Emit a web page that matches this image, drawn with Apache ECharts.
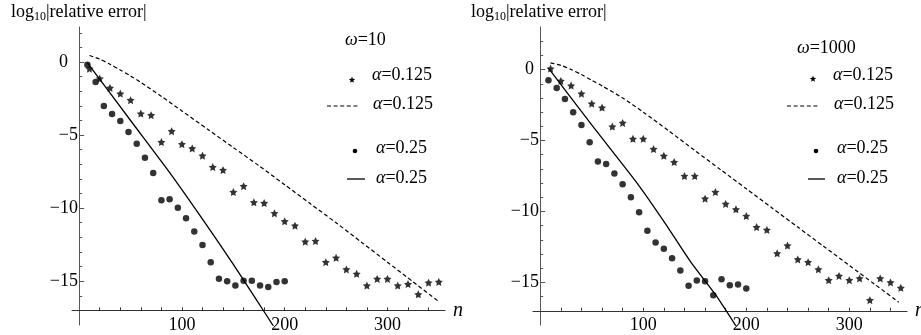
<!DOCTYPE html>
<html>
<head>
<meta charset="utf-8">
<script src="https://cdn.jsdelivr.net/npm/echarts@6/dist/echarts.min.js"></script>
<style>
html,body{margin:0;padding:0;background:#fff;}
#chart{width:921px;height:335px;}
</style>
</head>
<body>
<div id="chart"></div>
<script>
// ---------- data ----------
const starN = [10,20,30,40,50,60,70,80,90,100,110,120,130,140,150,160,170,180,190,200,210,220,230,240,250,260,270,280,290,300,310,320,330,340,350];
const dotN  = [8,16,24,32,40,48,56,64,72,80,88,96,104,112,120,128,136,144,152,160,168,176,184,192,200];

// omega = 10
const w10StarV = [-0.45,-1.13,-1.77,-2.16,-2.61,-3.53,-3.64,-5.48,-4.73,-5.62,-5.91,-6.41,-7.19,-7.39,-8.9,-8.5,-9.6,-9.65,-10.35,-10.9,-11.2,-12.3,-12.25,-13.7,-13.4,-14.2,-14.5,-15.3,-14.85,-14.85,-15.3,-15.2,-15.9,-15.1,-15.05];
const w10DotV  = [-0.18,-1.36,-3.0,-3.55,-4.03,-4.78,-5.6,-6.55,-7.6,-9.46,-9.4,-9.97,-10.7,-11.6,-12.53,-13.7,-14.83,-15.0,-15.3,-14.97,-14.97,-15.3,-15.4,-15.06,-15.0];
const w10DashN = [10,20,30,40,50,60,80,100,125,150,175,200,225,250,275,300,325,350];
const w10DashV = [0.45,0.2,-0.15,-0.55,-0.95,-1.4,-2.35,-3.35,-4.6,-5.85,-7.1,-8.4,-9.7,-11.0,-12.35,-13.7,-15.05,-16.4];
const w10SolidN = [8,50,90,120,150,170,192];
const w10SolidV = [-0.05,-4.0,-7.75,-10.75,-13.85,-16.0,-18.4];

// omega = 1000
const w1000StarV = [0.07,-0.8,-1.13,-1.7,-2.4,-2.68,-4.02,-3.76,-4.88,-4.88,-5.6,-6.08,-6.52,-7.5,-7.5,-9.1,-8.63,-9.47,-9.85,-10.32,-11.1,-11.3,-12.95,-12.4,-13.38,-13.57,-14.08,-14.84,-14.54,-14.84,-14.72,-16.25,-14.72,-15.0,-15.38];
const w1000DotV  = [-0.75,-1.3,-2.07,-3.0,-3.9,-5.13,-6.47,-6.66,-7.33,-8.08,-9.0,-10.06,-11.36,-12.18,-12.63,-13.3,-14.16,-15.24,-14.86,-14.91,-15.9,-14.78,-15.2,-15.14,-15.43];
const w1000DashN = [10,20,30,40,50,60,80,100,125,150,175,200,225,250,275,300,325,348];
const w1000DashV = [0.47,0.3,0.0,-0.35,-0.75,-1.15,-2.0,-3.0,-4.33,-5.7,-7.05,-8.4,-9.75,-11.1,-12.45,-13.8,-15.15,-16.4];
const w1000SolidN = [8,50,94,120,146,170,192];
const w1000SolidV = [0.1,-3.9,-8.0,-10.7,-13.55,-15.85,-18.3];

const xTickLabels = [100,200,300];
const xMinorTicks = [20,40,60,80,100,120,140,160,180,200,220,240,260,280,300,320,340];
const yTickLabels = [-15,-10,-5,0];
const yMinorTicks = [-16,-15,-14,-13,-12,-11,-10,-9,-8,-7,-6,-5,-4,-3,-2,-1,0,1,2];

const panels = [
  {omega:'10', starV:w10StarV, dotV:w10DotV, dashN:w10DashN, dashV:w10DashV, solidN:w10SolidN, solidV:w10SolidV, ymax:2.4},
  {omega:'1000', starV:w1000StarV, dotV:w1000DotV, dashN:w1000DashN, dashV:w1000DashV, solidN:w1000SolidN, solidV:w1000SolidV, ymax:3.0}
];
const alphaA = '0.125', alphaB = '0.25';

// ---------- layout ----------
const FONT = 'Liberation Serif';
const gridsPos = [{left:72, top:27, width:373, height:298}, {left:533, top:27, width:374, height:298}];
const zeroPad = [10, 5];
const legendPos = [
  {wx:345, wy:40, sx:352, sy:80, tx1:372, ty1:75, dx1:327, dx2:360, dy:106, tx2:373, ty2:104, cx:355, cy:151, tx3:376, ty3:148, lx1:347, lx2:365, ly:179, tx4:376, ty4:178},
  {wx:797, wy:48, sx:813, sy:79, tx1:833, ty1:75, dx1:787, dx2:820, dy:106, tx2:834, ty2:104, cx:816, cy:151, tx3:837, ty3:148, lx1:808, lx2:825, ly:179, tx4:837, ty4:178}
];
const titlePos = [{x:11, y:14}, {x:471, y:14}];

const STAR = 'path://M0,-10 L2.94,-4.05 9.51,-3.09 4.76,1.55 5.88,8.09 0,5 -5.88,8.09 -4.76,1.55 -9.51,-3.09 -2.94,-4.05 Z';
const zip = (a,b) => a.map((v,i)=>[v,b[i]]);

const grid = [], xAxis = [], yAxis = [], series = [], graphic = [];
const AX = '#555';

function starPoints(cx, cy, R){
  const pts=[];
  for(let k=0;k<10;k++){
    const r = k%2===0 ? R : R*0.42;
    const a = -Math.PI/2 + k*Math.PI/5;
    pts.push([cx + r*Math.cos(a), cy + r*Math.sin(a)]);
  }
  return pts;
}

panels.forEach((p, i) => {
  const g = gridsPos[i];
  grid.push({left:g.left, top:g.top, width:g.width, height:g.height, outerBoundsMode:'none', containLabel:false});
  const yMain = 3*i, yAux = 3*i+1;
  xAxis.push({
    type:'value', gridIndex:i, min:-7, max:356,
    axisLine:{show:true, onZero:true, onZeroAxisIndex:yAux, lineStyle:{color:'#333', width:1}},
    axisTick:{show:true, inside:true, length:3, customValues:xMinorTicks, lineStyle:{color:'#333'}},
    axisLabel:{show:true, customValues:xTickLabels, fontFamily:FONT, fontSize:18, color:'#000', margin:-9},
    splitLine:{show:false},
    name:'n', nameLocation:'end', nameGap:8,
    nameTextStyle:{fontFamily:FONT, fontSize:20, fontStyle:'italic', color:'#000', verticalAlign:'middle'}
  });
  yAxis.push({
    type:'value', gridIndex:i, position:'left', min:-18, max:p.ymax,
    axisLine:{show:true, onZero:true, onZeroAxisIndex:i, lineStyle:{color:AX, width:1}},
    axisTick:{show:true, inside:true, length:3, customValues:yMinorTicks, lineStyle:{color:AX}},
    axisLabel:{show:true, customValues:yTickLabels, fontFamily:FONT, fontSize:18, color:'#000', margin:-6, align:'right',
      formatter: v => v === 0 ? '{z|0}' : '{m|\u2212' + Math.abs(v) + '}',
      rich:{
        z:{fontFamily:FONT, fontSize:18, color:'#000', padding:[0, zeroPad[i], 0, 0]},
        m:{fontFamily:FONT, fontSize:18, color:'#000'}
      }},
    splitLine:{show:false}
  });
  yAxis.push({
    type:'value', gridIndex:i, position:'left', min:-1, max:p.ymax + 17, show:false,
    axisLine:{onZero:false}
  });
  yAxis.push({
    type:'value', gridIndex:i, position:'left', min:-18, max:p.ymax,
    axisLine:{show:false, onZero:true, onZeroAxisIndex:i},
    axisTick:{show:true, inside:true, length:5, customValues:yTickLabels, lineStyle:{color:AX}},
    axisLabel:{show:false}, splitLine:{show:false}
  });

  series.push({
    type:'line', xAxisIndex:i, yAxisIndex:yMain, data:zip(p.dashN, p.dashV), smooth:0.25,
    showSymbol:false, symbol:'none', lineStyle:{color:'#000', width:1.2, type:[4,2.6]}, silent:true, z:2
  });
  series.push({
    type:'line', xAxisIndex:i, yAxisIndex:yMain, data:zip(p.solidN, p.solidV), smooth:0.2,
    showSymbol:false, symbol:'none', lineStyle:{color:'#000', width:1.3}, silent:true, clip:true, z:2
  });
  series.push({
    type:'scatter', xAxisIndex:i, yAxisIndex:yMain, data:zip(starN, p.starV),
    symbol:STAR, symbolSize:8, itemStyle:{color:'#000'}, silent:true, z:3
  });
  series.push({
    type:'scatter', xAxisIndex:i, yAxisIndex:yMain, data:zip(dotN, p.dotV),
    symbol:'circle', symbolSize:6.5, itemStyle:{color:'#000'}, silent:true, z:3
  });

  // title (axis label)
  const t = titlePos[i];
  graphic.push({
    type:'text', left:t.x, top:t.y - 11, silent:true,
    style:{
      text:'{a|log}{s|10}{a||relative error|}',
      rich:{
        a:{fontFamily:FONT, fontSize:18, color:'#000', lineHeight:22, verticalAlign:'middle'},
        s:{fontFamily:FONT, fontSize:12, color:'#000', lineHeight:12, verticalAlign:'bottom'}
      }
    }
  });

  // legend
  const L = legendPos[i];
  const txt = (x, y, s) => ({
    type:'text', x:x, y:y, silent:true,
    style:{text:s, verticalAlign:'middle', align:'left',
      rich:{i:{fontFamily:FONT, fontSize:18, fontStyle:'italic', color:'#000'}, n:{fontFamily:FONT, fontSize:18, color:'#000'}}}
  });
  graphic.push(txt(L.wx, L.wy, '{i|ω}{n|=' + p.omega + '}'));
  graphic.push({type:'polygon', silent:true, shape:{points:starPoints(L.sx, L.sy, 3.4)}, style:{fill:'#000'}});
  graphic.push(txt(L.tx1, L.ty1, '{i|α}{n|=' + alphaA + '}'));
  graphic.push({type:'line', silent:true, shape:{x1:L.dx1, y1:L.dy, x2:L.dx2, y2:L.dy}, style:{stroke:'#000', lineWidth:1.2, lineDash:[4,2.6]}});
  graphic.push(txt(L.tx2, L.ty2, '{i|α}{n|=' + alphaA + '}'));
  graphic.push({type:'circle', silent:true, shape:{cx:L.cx, cy:L.cy, r:2.3}, style:{fill:'#000'}});
  graphic.push(txt(L.tx3, L.ty3, '{i|α}{n|=' + alphaB + '}'));
  graphic.push({type:'line', silent:true, shape:{x1:L.lx1, y1:L.ly, x2:L.lx2, y2:L.ly}, style:{stroke:'#000', lineWidth:1.3}});
  graphic.push(txt(L.tx4, L.ty4, '{i|α}{n|=' + alphaB + '}'));
});

const chart = echarts.init(document.getElementById('chart'), null, {renderer:'canvas'});
chart.setOption({
  animation:false,
  backgroundColor:'#fff',
  grid, xAxis, yAxis, series, graphic
});
</script>
</body>
</html>
